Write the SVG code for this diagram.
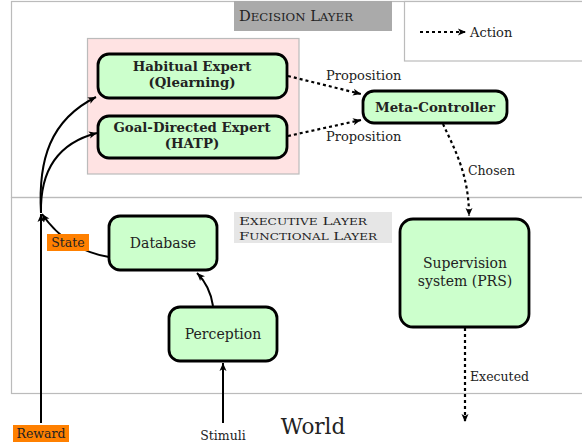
<svg xmlns="http://www.w3.org/2000/svg" width="582" height="446" viewBox="0 0 582 446">
<style>
.frame{fill:none;stroke:#bbbbbb;stroke-width:1.2}
.node{fill:#ccffcc;stroke:#000;stroke-width:2.8}
text{font-family:"DejaVu Serif","Liberation Serif",serif;fill:#222}
.t{text-anchor:middle}
.b{font-weight:bold;font-size:13.3px}
.n{font-size:14px}
.lbl{font-size:12.5px}
.solid{fill:none;stroke:#000;stroke-width:2}
.dot{fill:none;stroke:#000;stroke-width:2.2;stroke-dasharray:3 3}
</style>
<defs>
<marker id="ah" markerUnits="userSpaceOnUse" markerWidth="10" markerHeight="8" refX="8" refY="4" orient="auto">
<path d="M0,0.5 L8,4 L0,7.5 L2,4 z" fill="#000"/>
</marker>
</defs>
<rect width="582" height="446" fill="#fff"/>
<g id="frames">
<rect class="frame" x="11.5" y="1.5" width="600" height="196"/>
<rect class="frame" x="11.5" y="197.5" width="600" height="196"/>
</g>
<g id="decision-label">
<rect x="234" y="1" width="158" height="30" fill="#aaaaaa"/>
<text x="239" y="21" style="font-size:14px" textLength="114" lengthAdjust="spacingAndGlyphs">D<tspan style="font-size:11.2px">ECISION</tspan> L<tspan style="font-size:11.2px">AYER</tspan></text>
</g>
<g id="legend">
<rect x="404.5" y="1.5" width="200" height="59.5" fill="#fff" stroke="#bbbbbb" stroke-width="1.2"/>
<line class="dot" x1="420" y1="32" x2="466" y2="32" marker-end="url(#ah)"/>
<text class="lbl" x="470" y="37" style="font-size:13px">Action</text>
</g>
<g id="experts-group">
<rect x="87.5" y="38.5" width="211.5" height="135.5" fill="#ffe3e3" stroke="#bbbbbb" stroke-width="1.2"/>
</g>
<g id="exec-label">
<rect x="234" y="212" width="158" height="31" fill="#e6e6e6"/>
<text x="239" y="225" style="font-size:11.5px" textLength="128" lengthAdjust="spacingAndGlyphs">E<tspan style="font-size:9.3px">XECUTIVE</tspan> L<tspan style="font-size:9.3px">AYER</tspan></text>
<text x="239" y="239.5" style="font-size:11.5px" textLength="138" lengthAdjust="spacingAndGlyphs">F<tspan style="font-size:9.3px">UNCTIONAL</tspan> L<tspan style="font-size:9.3px">AYER</tspan></text>
</g>
<g id="connectors">
<path class="solid" d="M41,423 L41,214" marker-end="url(#ah)"/>
<path class="solid" d="M109,257 C85,253 60,240 42,214" marker-end="url(#ah)"/>
<path class="solid" d="M41,213 C38,160 50,120 96,97" marker-end="url(#ah)"/>
<path class="solid" d="M41,213 C40,170 58,143 97,133" marker-end="url(#ah)"/>
<path class="solid" d="M213,306 C211,292 206,282 197,273" marker-end="url(#ah)"/>
<path class="solid" d="M223,423 L223,363" marker-end="url(#ah)"/>
<path class="dot" d="M288,76 L361,94" marker-end="url(#ah)"/>
<path class="dot" d="M288,136 L361,120" marker-end="url(#ah)"/>
<path class="dot" d="M443,124 C455,150 469,175 469,216" marker-end="url(#ah)"/>
<path class="dot" d="M465,328 L465,422" marker-end="url(#ah)"/>
</g>
<g id="connector-labels">
<text class="lbl" x="326" y="80" style="font-size:13px">Proposition</text>
<text class="lbl" x="326" y="141" style="font-size:13px">Proposition</text>
<text class="lbl" x="468" y="175">Chosen</text>
<text class="lbl" x="470" y="381">Executed</text>
</g>
<g id="state">
<rect x="47" y="234" width="42" height="17" fill="#ff8000"/>
<text class="lbl t" x="68" y="247">State</text>
</g>
<g id="reward">
<rect x="13" y="425" width="56" height="17" fill="#ff8000"/>
<text class="lbl t" x="41" y="438">Reward</text>
</g>
<g id="habitual">
<rect class="node" x="98" y="54" width="189" height="44" rx="11"/>
<text class="t b" x="192" y="71">Habitual Expert</text>
<text class="t b" x="192" y="87">(Qlearning)</text>
</g>
<g id="goal">
<rect class="node" x="98" y="116" width="189" height="42" rx="11"/>
<text class="t b" x="192" y="132">Goal-Directed Expert</text>
<text class="t b" x="192" y="148">(HATP)</text>
</g>
<g id="meta">
<rect class="node" x="363" y="91" width="144" height="32" rx="11"/>
<text class="t b" x="435" y="112">Meta-Controller</text>
</g>
<g id="database">
<rect class="node" x="109" y="216" width="108" height="54" rx="11"/>
<text class="t n" x="163" y="248">Database</text>
</g>
<g id="perception">
<rect class="node" x="169" y="307" width="108" height="54" rx="11"/>
<text class="t n" x="223" y="339">Perception</text>
</g>
<g id="supervision">
<rect class="node" x="400" y="219" width="129" height="108" rx="13"/>
<text class="t n" x="465" y="268">Supervision</text>
<text class="t n" x="465" y="286">system (PRS)</text>
</g>
<g id="stimuli">
<text class="lbl t" x="223" y="440">Stimuli</text>
</g>
<g id="world">
<text class="t" x="313" y="434" style="font-size:21.5px">World</text>
</g>
</svg>
